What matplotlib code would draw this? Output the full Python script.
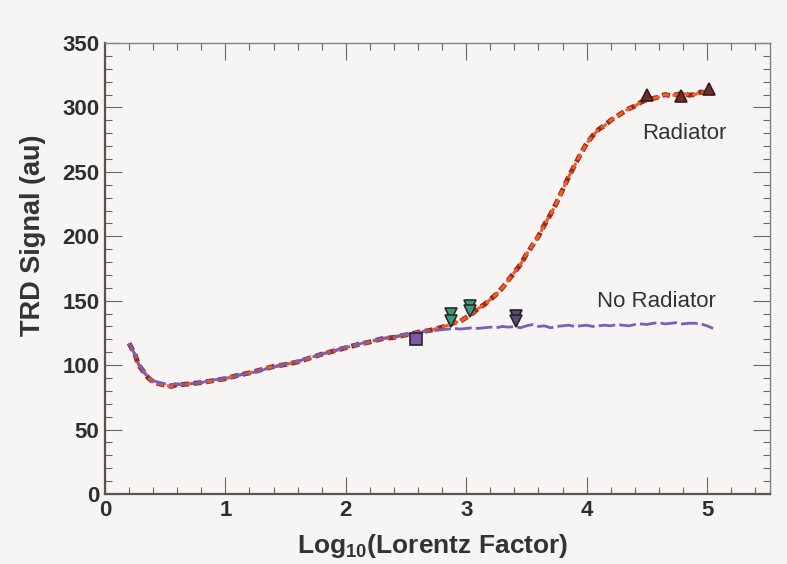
import numpy as np
import matplotlib
matplotlib.use("Agg")
import matplotlib.pyplot as plt
from matplotlib.ticker import MultipleLocator

plt.rcParams['font.family'] = ['Liberation Sans', 'DejaVu Sans']
plt.rcParams['mathtext.fontset'] = 'custom'
plt.rcParams['mathtext.bf'] = 'Liberation Sans:bold'
plt.rcParams['mathtext.rm'] = 'Liberation Sans'

# No radiator curve (purple)
x_norad = [0.20, 0.25, 0.28, 0.32, 0.36, 0.40, 0.45, 0.50, 0.55, 0.60, 0.65, 0.70,
           0.75, 0.80, 0.85, 0.90, 0.95, 1.00, 1.05, 1.10, 1.15, 1.20, 1.25, 1.30,
           1.35, 1.40, 1.45, 1.50, 1.55, 1.60, 1.65, 1.70, 1.75, 1.80, 1.85, 1.90,
           1.95, 2.00, 2.05, 2.10, 2.15, 2.20, 2.25, 2.30, 2.35, 2.40, 2.45, 2.50,
           2.55, 2.60, 2.65, 2.70, 2.75, 2.80, 2.85, 2.90, 2.95, 3.00, 3.05, 3.10,
           3.15, 3.20, 3.25, 3.30, 3.35, 3.40, 3.45, 3.50, 3.55, 3.60, 3.65, 3.70,
           3.75, 3.80, 3.85, 3.90, 3.95, 4.00, 4.05, 4.10, 4.15, 4.20, 4.25, 4.30,
           4.35, 4.40, 4.45, 4.50, 4.55, 4.60, 4.65, 4.70, 4.75, 4.80, 4.85, 4.90,
           4.95, 5.00, 5.05]
y_norad = [117, 108, 101, 95, 91, 88, 86.5, 85.5, 85.0, 85.5, 85.0, 85.5,
           86.0, 86.5, 87.5, 88.5, 89.0, 90.0, 90.5, 92.0, 93.0, 93.5, 95.0, 96.0,
           97.5, 98.5, 99.5, 101.0, 102.0, 103.0, 104.5, 106.0, 107.0, 108.5, 110.0, 111.0,
           112.5, 114.0, 115.0, 116.0, 117.5, 118.5, 119.5, 120.5, 121.5, 122.0, 123.0, 124.0,
           124.5, 125.0, 126.0, 126.5, 127.0, 127.5, 128.0, 128.5, 128.0, 128.5, 129.0, 128.5,
           129.0, 129.5, 129.0, 130.0, 129.5, 130.0, 129.0, 130.5, 131.5, 130.0, 130.5, 129.0,
           130.0, 130.5, 131.0, 130.0, 130.5, 131.0, 130.0, 130.5, 131.0, 130.5, 131.5, 131.0,
           130.5, 131.5, 132.0, 131.5, 132.5, 133.0, 132.0, 132.5, 133.0, 132.0, 132.5, 132.5,
           132.0, 130.5, 128.5]

# Radiator curve (orange-red dots)
x_rad = [0.20, 0.25, 0.28, 0.32, 0.36, 0.40, 0.45, 0.50, 0.55, 0.60, 0.65, 0.70,
         0.80, 0.90, 1.00, 1.10, 1.20, 1.30, 1.40, 1.50, 1.60, 1.70, 1.80, 1.90,
         2.00, 2.10, 2.20, 2.30, 2.40, 2.50, 2.60, 2.70, 2.80, 2.85, 2.90, 2.95,
         3.00, 3.05, 3.10, 3.15, 3.20, 3.25, 3.30, 3.35, 3.40, 3.45, 3.50, 3.55,
         3.60, 3.65, 3.70, 3.75, 3.80, 3.85, 3.90, 3.95, 4.00, 4.05, 4.10, 4.15,
         4.20, 4.25, 4.30, 4.35, 4.40, 4.45, 4.50, 4.55, 4.60, 4.65, 4.70, 4.75,
         4.80, 4.85, 4.90, 4.95, 5.00]
y_rad = [117, 108, 100, 95, 90, 87, 85.5, 84.5, 83.5, 85.0, 85.0, 85.5,
         86.5, 88.0, 89.5, 92.0, 94.0, 96.5, 99.0, 100.5, 102.5, 105.5, 108.5, 111.0,
         113.5, 116.0, 118.0, 120.5, 121.5, 123.5, 125.5, 127.0, 129.5, 131.0, 133.0, 134.0,
         137.0, 140.0, 144.0, 147.0, 151.0, 155.0, 160.0, 166.0, 172.0, 178.0, 186.0, 193.0,
         200.0, 209.0, 217.0, 226.0, 236.0, 246.0, 255.0, 264.0, 272.0, 278.0, 283.0, 286.0,
         290.0, 293.0, 296.0, 299.0, 301.0, 304.0, 306.0, 307.0, 308.0, 310.0, 309.0, 310.0,
         311.0, 309.5, 310.0, 312.0, 311.0]

# marker points
up_x = [4.50, 4.78, 5.02]
up_y = [310, 309, 314]
green_x = [2.87, 2.87, 3.03, 3.03]
green_y = [140, 134, 146, 142]
purple_dn_x = [3.41, 3.41]
purple_dn_y = [138, 134]
sq_x = [2.58]
sq_y = [120]

bg = '#f6f5f3'
fig = plt.figure(figsize=(7.87, 5.64), dpi=100, facecolor=bg)
ax = fig.add_axes([0.1334, 0.1241, 0.8446, 0.7997], facecolor=bg)

# radiator: dark outline under an orange dotted stroke
ax.plot(x_rad, y_rad, color='#9a2a1a', lw=3.6, dashes=(1.6, 0.9), zorder=2)
ax.plot(x_rad, y_rad, color='#f25a26', lw=2.2, dashes=(2.2, 1.1), zorder=3)
ax.plot(x_norad, y_norad, color='#7b5fb5', lw=2.0, dashes=(6, 1.5), zorder=4)

ax.plot(up_x, up_y, ls='none', marker='^', ms=8.5, mfc='#7a2a24', mec='#2a2020', mew=1.2, zorder=5)
ax.plot(green_x, green_y, ls='none', marker='v', ms=8.5, mfc='#3f9a7a', mec='#2a2a2a', mew=1.2, zorder=5)
ax.plot(purple_dn_x, purple_dn_y, ls='none', marker='v', ms=8.5, mfc='#5a4a78', mec='#2a2030', mew=1.2, zorder=5)
ax.plot(sq_x, sq_y, ls='none', marker='s', ms=8.5, mfc='#7a5aa0', mec='#2a2030', mew=1.2, zorder=5)

ax.text(4.46, 280, 'Radiator', fontsize=16, color='#333333', va='center', ha='left')
ax.text(4.09, 149, 'No Radiator', fontsize=16, color='#333333', va='center', ha='left')

ax.set_xlim(0, 5.52)
ax.set_ylim(0, 350)
ax.xaxis.set_major_locator(MultipleLocator(1))
ax.xaxis.set_minor_locator(MultipleLocator(0.2))
ax.yaxis.set_major_locator(MultipleLocator(50))
ax.yaxis.set_minor_locator(MultipleLocator(10))
ax.tick_params(which='both', direction='in', top=True, right=True, colors='#6e6460',
               labelcolor='#2e2e2e')
ax.tick_params(which='major', length=12, width=0.8, labelsize=16, pad=4)
ax.tick_params(which='minor', length=5, width=0.8)
for lab in ax.get_xticklabels() + ax.get_yticklabels():
    lab.set_fontweight('bold')

for s in ['left', 'bottom']:
    ax.spines[s].set_color('#5e524e')
    ax.spines[s].set_linewidth(1.6)
for s in ['top', 'right']:
    ax.spines[s].set_color('#8a807c')
    ax.spines[s].set_linewidth(1.0)

ax.set_xlabel('Log$_{\\mathbf{10}}$(Lorentz Factor)', fontsize=19, fontweight='bold',
              color='#333333')
ax.set_ylabel('TRD Signal (au)', fontsize=19.5, fontweight='bold', color='#333333')
ax.xaxis.set_label_coords(0.493, -0.085)
ax.yaxis.set_label_coords(-0.088, 0.574)

fig.savefig('out.png', dpi=100, facecolor=bg)
